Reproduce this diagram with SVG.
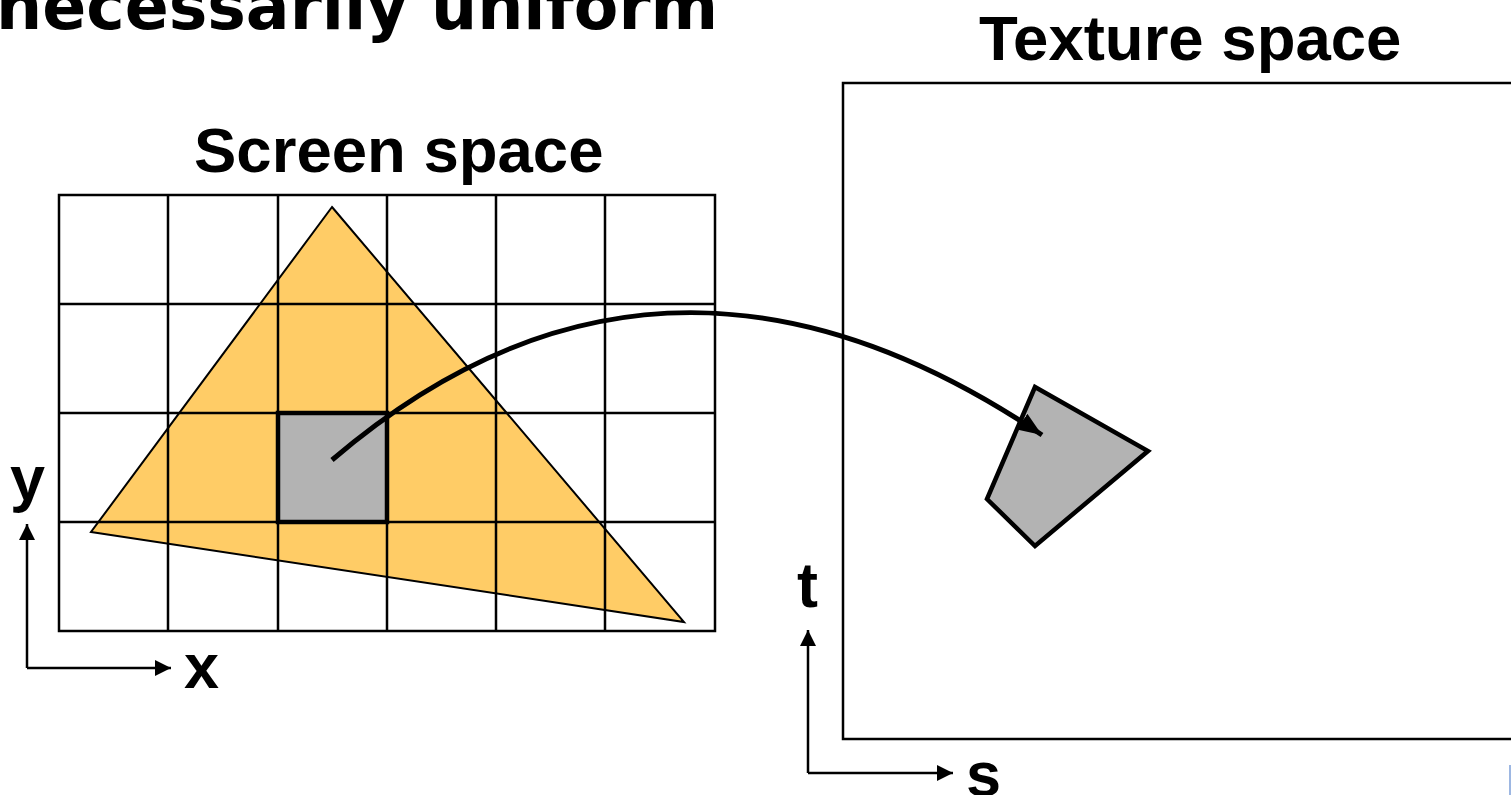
<svg xmlns="http://www.w3.org/2000/svg" width="1511" height="795" viewBox="0 0 1511 795">
<style>
.lbl{font-family:"Liberation Sans",Arial,sans-serif;font-weight:bold;fill:#000}
.grid{stroke:#000;stroke-width:2.5;fill:none}
.ax{stroke:#000;stroke-width:2.5;fill:none}
</style>
<defs>
<marker id="ah" markerUnits="userSpaceOnUse" markerWidth="18" markerHeight="18" viewBox="0 0 18 18" refX="16" refY="9" orient="auto">
<path d="M0,1 L16,9 L0,17 Z" fill="#000"/>
</marker>
<marker id="big" markerUnits="userSpaceOnUse" markerWidth="26" markerHeight="22" viewBox="0 0 26 22" refX="24" refY="11" orient="auto">
<path d="M0,1.5 L24,11 L0,20.5 Z" fill="#000"/>
</marker>
</defs>
<rect width="1511" height="795" fill="#fff"/>
<text id="title" class="lbl" x="-4" y="29" style="font-family:'DejaVu Sans',Verdana,sans-serif" font-size="66" textLength="722" lengthAdjust="spacingAndGlyphs">necessarily uniform</text>
<g id="screen">
<text class="lbl" x="194" y="172" font-size="63.5">Screen space</text>
<polygon id="triangle" points="332,207 684,622 91,532" fill="#FFCC66" stroke="#000" stroke-width="2" stroke-linejoin="miter"/>
<g id="grid" class="grid">
<rect x="59" y="195" width="656" height="436"/>
<path d="M168,195V631M278,195V631M387,195V631M496,195V631M605,195V631M59,304H715M59,413H715M59,522H715"/>
</g>
<rect id="pixel" x="278" y="413" width="109" height="109" fill="#B3B3B3" stroke="#000" stroke-width="4.5"/>
</g>
<g id="screen-axes">
<path class="ax" d="M27,668V524" marker-end="url(#ah)"/>
<path class="ax" d="M27,668H171" marker-end="url(#ah)"/>
<text class="lbl" x="10" y="500" font-size="63">y</text>
<text class="lbl" x="184" y="688" font-size="63">x</text>
</g>
<g id="texture">
<text class="lbl" x="979" y="60" font-size="63.5">Texture space</text>
<rect x="843" y="83" width="720" height="656" fill="none" stroke="#000" stroke-width="2.5"/>
<polygon id="footprint" points="1035,387 1148,451 1035,546 987,499" fill="#B3B3B3" stroke="#000" stroke-width="4.5" stroke-linejoin="miter"/>
</g>
<g id="texture-axes">
<path class="ax" d="M808,773V630" marker-end="url(#ah)"/>
<path class="ax" d="M808,773H953" marker-end="url(#ah)"/>
<text class="lbl" x="797" y="607" font-size="63">t</text>
<text class="lbl" x="966" y="796" font-size="63">s</text>
</g>
<g id="connectors">
<path d="M332,460 C582,246 827,290 1042,435" fill="none" stroke="#000" stroke-width="5" marker-end="url(#big)"/>
</g>
<rect x="1509" y="765" width="3" height="30" fill="#9DB7E2"/>
</svg>
